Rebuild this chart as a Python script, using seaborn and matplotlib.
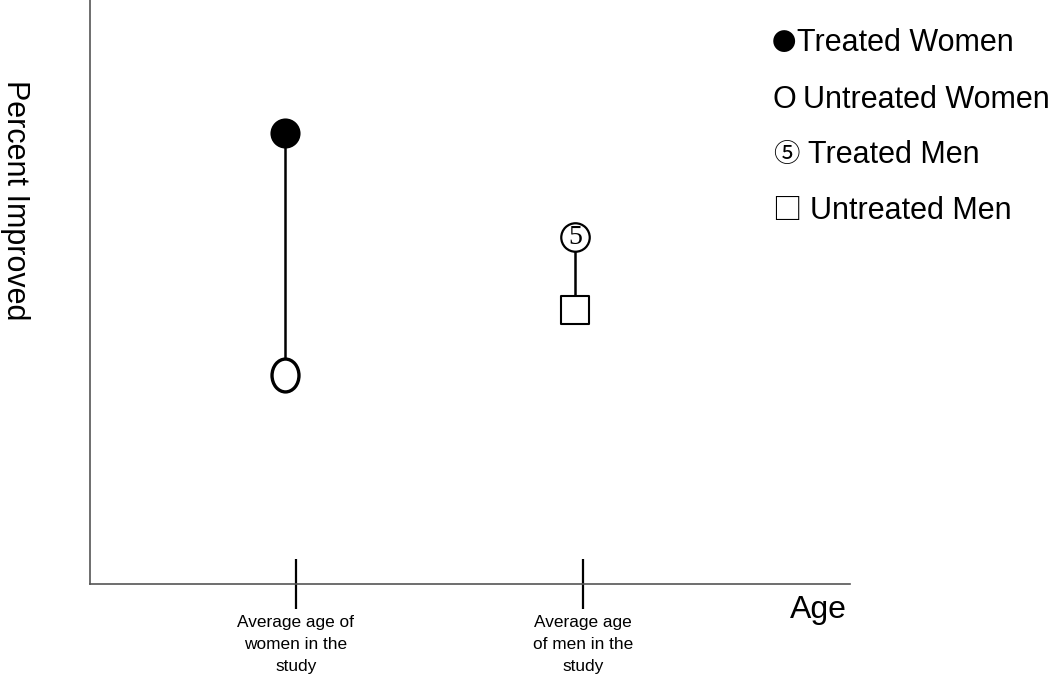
import pandas as pd
import matplotlib.pyplot as plt
import seaborn as sns
from matplotlib.path import Path
from matplotlib.transforms import Affine2D

sns.set_theme(style="white")
plt.rcParams['font.family'] = ['Liberation Sans', 'Noto Sans CJK SC', 'DejaVu Sans']
plt.rcParams['text.color'] = 'black'
plt.rcParams['xtick.color'] = 'black'

# data (arbitrary units, axes run 0-100)
groups = ["Treated Women", "Untreated Women", "Treated Men", "Untreated Men"]
sex = ["women", "women", "men", "men"]
age = [25.7, 25.7, 63.8, 63.8]
pct_improved = [77.2, 35.8, 59.4, 46.9]
tick_ages = [27.1, 64.9]
tick_labels = ["Average age of\nwomen in the\nstudy", "Average age\nof men in the\nstudy"]
legend_symbols = ["\u25cf", "O", "\u2464", "\u25a1"]

df = pd.DataFrame({"group": groups, "sex": sex, "age": age, "pct": pct_improved})

fig = plt.figure(figsize=(10.5, 6.77), dpi=100)
ax = fig.add_axes([90 / 1050, 1 - 584 / 677, 760 / 1050, 584 / 677])

# connecting lines
sns.lineplot(data=df, x="age", y="pct", units="sex", estimator=None,
             color="black", linewidth=1.8, ax=ax, legend=False)

ellipse = Path.unit_circle().transformed(Affine2D().scale(0.82, 1.0))
styles = {
    "Treated Women": dict(marker="o", s=470, facecolor="black", edgecolor="black", linewidth=0),
    "Untreated Women": dict(marker=ellipse, s=560, facecolor="white", edgecolor="black", linewidth=2.4),
    "Treated Men": dict(marker="o", s=420, facecolor="white", edgecolor="black", linewidth=1.6),
    "Untreated Men": dict(marker="s", s=430, facecolor="white", edgecolor="black", linewidth=1.5),
}
for g in groups:
    sub = df[df["group"] == g]
    sns.scatterplot(data=sub, x="age", y="pct", ax=ax, zorder=3, legend=False, **styles[g])

# the "5" inside the treated-men circle
tm = df[df["group"] == "Treated Men"].iloc[0]
ax.text(tm["age"], tm["pct"], "5", ha="center", va="center", fontsize=20,
        family="Liberation Serif", zorder=4)

ax.set_xlim(0, 100)
ax.set_ylim(0, 100)
ax.set_xticks(tick_ages)
ax.set_xticklabels(tick_labels, fontsize=12.4, linespacing=1.62)
ax.set_yticks([])
ax.tick_params(axis="x", bottom=True, direction="inout", length=36, width=1.6,
               color="black", pad=4)
ax.set_xlabel("")
ax.set_ylabel("")

for side in ["top", "right"]:
    ax.spines[side].set_visible(False)
for side in ["left", "bottom"]:
    ax.spines[side].set_color("#555555")
    ax.spines[side].set_linewidth(1.2)

fig.text(818 / 1050, 1 - 610 / 677, "Age", fontsize=23, ha="center", va="center")
fig.text(15 / 1050, 1 - 200 / 677, "Percent Improved", fontsize=22, rotation=270,
         ha="center", va="center")

# text legend: symbol and label drawn separately
legend_y = [43, 100, 155, 211]
symbol_x = [772, 772, 773, 772]
symbol_fonts = ["Noto Sans CJK SC", "Liberation Sans", "Noto Sans CJK SC", "Noto Sans CJK SC"]
symbol_sizes = [17.5, 22, 19, 21]
label_x = [797, 803, 808, 810]
for sym, g, y, sx, sf, ss, lx in zip(legend_symbols, groups, legend_y, symbol_x,
                                      symbol_fonts, symbol_sizes, label_x):
    fig.text(sx / 1050, 1 - y / 677, sym, fontsize=ss, family=sf, ha="left", va="center")
    fig.text(lx / 1050, 1 - y / 677, g, fontsize=22, ha="left", va="center")

plt.savefig("out.png", dpi=100)
